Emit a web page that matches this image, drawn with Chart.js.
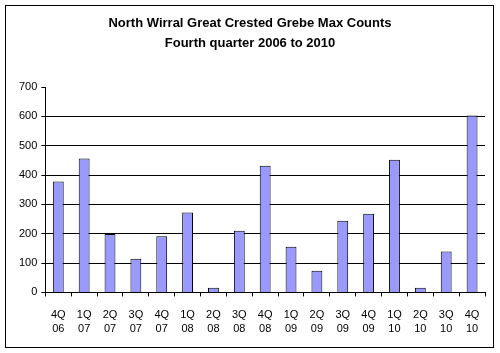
<!DOCTYPE html>
<html>
<head>
<meta charset="utf-8">
<script src="https://cdn.jsdelivr.net/npm/chart.js@4"></script>
<style>
  body { margin: 0; background: #fff; }
</style>
</head>
<body>
<canvas id="grebe" width="500" height="353"></canvas>
<script>
// quarters and max counts
const quarters = [
    ['4Q', '06'], ['1Q', '07'], ['2Q', '07'], ['3Q', '07'], ['4Q', '07'],
    ['1Q', '08'], ['2Q', '08'], ['3Q', '08'], ['4Q', '08'], ['1Q', '09'],
    ['2Q', '09'], ['3Q', '09'], ['4Q', '09'], ['1Q', '10'], ['2Q', '10'],
    ['3Q', '10'], ['4Q', '10']
];
const maxCounts = [378, 456, 199, 115, 191, 272, 16, 210, 432, 156, 74, 244, 268, 452, 16, 139, 603];
const titleLines = ['North Wirral Great Crested Grebe Max Counts', 'Fourth quarter 2006 to 2010'];

// white background and the thin frame round the whole chart
const frame = {
    id: 'frame',
    beforeDraw(chart) {
        const c = chart.ctx;
        c.save();
        c.fillStyle = '#fff';
        c.fillRect(0, 0, chart.width, chart.height);
        c.strokeStyle = '#000';
        c.lineWidth = 1;
        c.strokeRect(5.5, 5.5, 488, 342);
        c.restore();
    }
};

const font = 'Arial, "Liberation Sans", sans-serif';

new Chart(document.getElementById('grebe'), {
    type: 'bar',
    data: {
        labels: quarters,
        datasets: [{
            data: maxCounts,
            backgroundColor: '#9999FF',
            borderColor: '#000',
            borderWidth: 1,
            barPercentage: 0.42,
            categoryPercentage: 1
        }]
    },
    options: {
        responsive: false,
        animation: false,
        layout: { padding: { left: 15, right: 15, top: 14, bottom: 6 } },
        plugins: {
            legend: { display: false },
            tooltip: { enabled: false },
            title: {
                display: true,
                text: titleLines,
                color: '#000',
                font: { family: font, size: 13, weight: 'bold', lineHeight: 1.5 },
                padding: { top: 0, bottom: 34 }
            }
        },
        scales: {
            y: {
                min: 0,
                max: 700,
                ticks: {
                    stepSize: 100,
                    color: '#000',
                    padding: 4,
                    font: { family: font, size: 11 }
                },
                grid: {
                    color: (ctx) => (ctx.tick && ctx.tick.value > 0 && ctx.tick.value < 700) ? '#000' : 'rgba(0,0,0,0)',
                    tickColor: '#000',
                    tickLength: 4
                },
                border: { color: '#000', width: 1 }
            },
            x: {
                ticks: {
                    color: '#000',
                    maxRotation: 0,
                    autoSkip: false,
                    padding: 11,
                    font: { family: font, size: 11, lineHeight: 1.3 }
                },
                grid: {
                    offset: true,
                    drawOnChartArea: false,
                    color: '#000',
                    tickLength: 4
                },
                border: { color: '#000', width: 1 }
            }
        }
    },
    plugins: [frame]
});
</script>
</body>
</html>
